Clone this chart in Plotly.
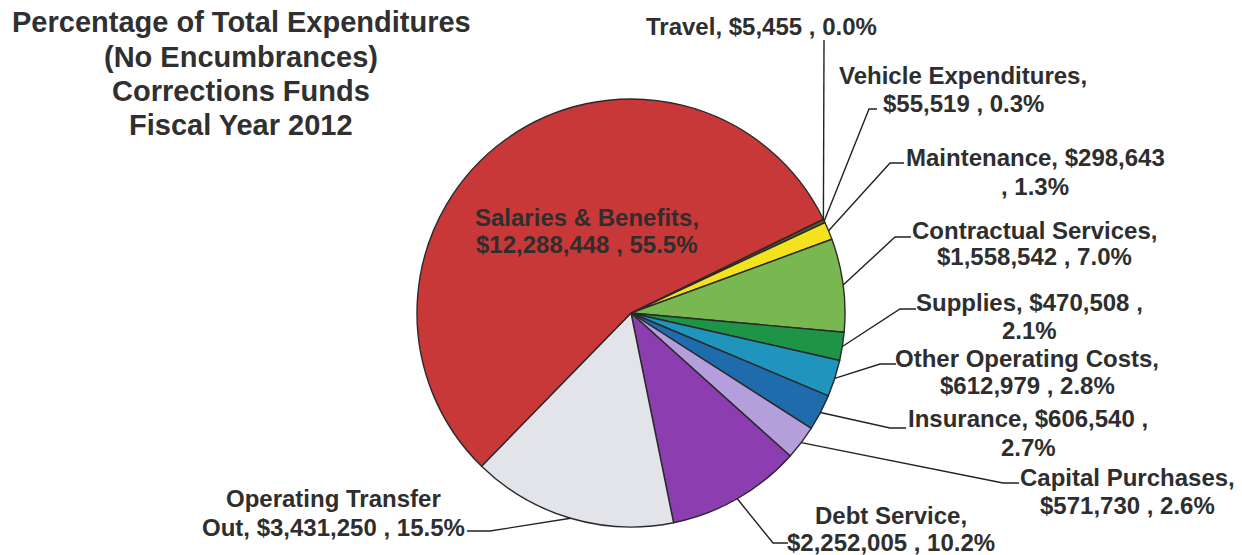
import math
import plotly.graph_objects as go

# ---------------- data ----------------
categories = ["Travel", "Vehicle Expenditures", "Maintenance", "Contractual Services",
              "Supplies", "Other Operating Costs", "Insurance", "Capital Purchases",
              "Debt Service", "Operating Transfer Out", "Salaries & Benefits"]
amounts = [5455, 55519, 298643, 1558542, 470508, 612979, 606540, 571730,
           2252005, 3431250, 12288448]
percent_labels = ["0.0%", "0.3%", "1.3%", "7.0%", "2.1%", "2.8%", "2.7%", "2.6%",
                  "10.2%", "15.5%", "55.5%"]
colors = ["#3a3a3a", "#5c5a22", "#F4E31C", "#79B851", "#1E9447", "#1F95BE",
          "#1F6CAD", "#B49EDB", "#8C3DB0", "#E3E4E9", "#C93838"]
title_lines = ["Percentage of Total Expenditures", "(No Encumbrances)",
               "Corrections Funds", "Fiscal Year 2012"]

# ---------------- layout geometry (pixels) ----------------
W, H = 1242, 555
CX, CY, R = 631, 313, 214
ROT = 64

def fx(px):
    return px / W

def fy(py):
    return 1 - py / H

fig = go.Figure()
fig.add_trace(go.Pie(
    labels=categories, values=amounts, sort=False, direction="clockwise",
    rotation=ROT, textinfo="none", hoverinfo="label+value+percent",
    marker=dict(colors=colors, line=dict(color="#2a2a2a", width=1.4)),
    domain=dict(x=[fx(CX - R), fx(CX + R)], y=[fy(CY + R), fy(CY - R)]),
    showlegend=False,
))

def money(v):
    return "${:,}".format(v)

label_lines = {
    0: [f"Travel, {money(amounts[0])} , {percent_labels[0]}"],
    1: ["Vehicle Expenditures,", f"{money(amounts[1])} , {percent_labels[1]}"],
    2: [f"Maintenance, {money(amounts[2])}", f", {percent_labels[2]}"],
    3: ["Contractual Services,", f"{money(amounts[3])} , {percent_labels[3]}"],
    4: [f"Supplies, {money(amounts[4])} ,", percent_labels[4]],
    5: ["Other Operating Costs,", f"{money(amounts[5])} , {percent_labels[5]}"],
    6: [f"Insurance, {money(amounts[6])} ,", percent_labels[6]],
    7: ["Capital Purchases,", f"{money(amounts[7])} , {percent_labels[7]}"],
    8: ["Debt Service,", f"{money(amounts[8])} , {percent_labels[8]}"],
    9: ["Operating Transfer", f"Out, {money(amounts[9])} , {percent_labels[9]}"],
    10: ["Salaries & Benefits,", f"{money(amounts[10])} , {percent_labels[10]}"],
}
label_pos = {
    0: (762, [27]),
    1: (963, [76, 104]),
    2: (1035, [157, 186]),
    3: (1034, [230, 257]),
    4: (1029, [302, 330]),
    5: (1027, [358, 385]),
    6: (1028, [418, 447]),
    7: (1127, [477, 505]),
    8: (891, [515, 542]),
    9: (333, [498, 527]),
    10: (587, [217, 245]),
}
elbows = {
    0: [(824, 40)],
    1: [(869, 109), (877, 109)],
    2: [(890, 163), (904, 163)],
    3: [(895, 237), (911, 237)],
    4: [(900, 309), (916, 309)],
    5: [(880, 364), (896, 364)],
    6: [(890, 428), (906, 428)],
    7: [(1003, 483), (1019, 483)],
    8: [(773, 543), (788, 543)],
    9: [(490, 531), (467, 531)],
}

FONT = "Liberation Sans, Arial, sans-serif"
annotations = []
for i, lines in label_lines.items():
    x, ys = label_pos[i]
    for line, y in zip(lines, ys):
        annotations.append(dict(
            text=f"<b>{line}</b>", x=fx(x), y=fy(y), xref="paper", yref="paper",
            xanchor="center", yanchor="middle", showarrow=False,
            font=dict(family=FONT, size=24, color="#2e2e2e")))

title_y = [22, 57, 91, 125]
for line, y in zip(title_lines, title_y):
    annotations.append(dict(
        text=f"<b>{line}</b>", x=fx(241), y=fy(y), xref="paper", yref="paper",
        xanchor="center", yanchor="middle", showarrow=False,
        font=dict(family=FONT, size=29, color="#303030")))

total = sum(amounts)
shapes = []
cum = 0
for i, v in enumerate(amounts):
    mid = ROT + 360 * (cum + v / 2) / total
    cum += v
    if i not in elbows:
        continue
    a = math.radians(mid)
    px0 = CX + R * math.sin(a)
    py0 = CY - R * math.cos(a)
    pts = [(px0, py0)] + elbows[i]
    path = "M " + " L ".join(f"{fx(p[0]):.5f},{fy(p[1]):.5f}" for p in pts)
    shapes.append(dict(type="path", path=path, xref="paper", yref="paper",
                       line=dict(color="#222222", width=1.4)))

fig.update_layout(
    width=W, height=H, margin=dict(l=0, r=0, t=0, b=0),
    paper_bgcolor="white", plot_bgcolor="white",
    annotations=annotations, shapes=shapes,
)
fig.write_html("out.html", config={"displayModeBar": False},
               post_script="document.body.style.margin='0';document.body.style.overflow='hidden';")
